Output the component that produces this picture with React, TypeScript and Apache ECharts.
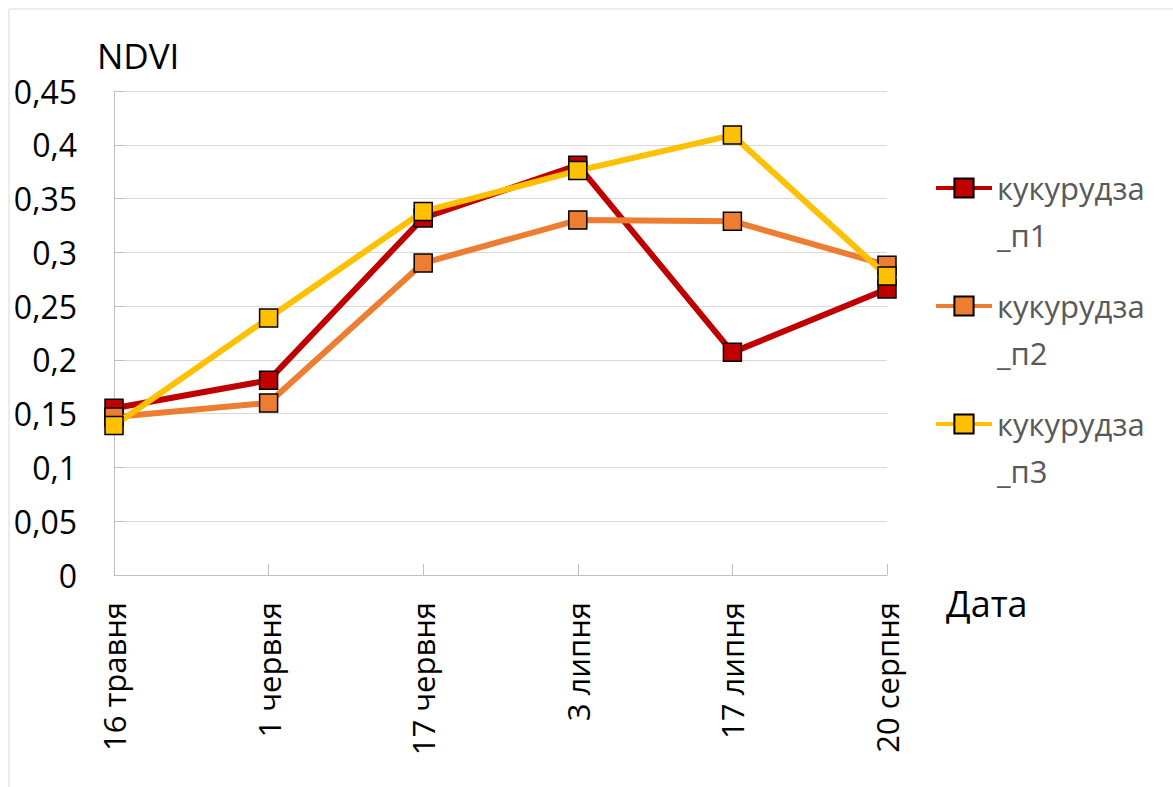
import React, { useEffect, useRef } from "react";
import * as echarts from "echarts";

// Survey dates (x axis categories)
const dates = ["16 травня", "1 червня", "17 червня", "3 липня", "17 липня", "20 серпня"];

// NDVI per maize field
const field1 = [0.155, 0.181, 0.332, 0.381, 0.207, 0.266];
const field2 = [0.147, 0.160, 0.290, 0.330, 0.329, 0.288];
const field3 = [0.139, 0.239, 0.338, 0.376, 0.409, 0.278];

const seriesNames = ["кукурудза_п1", "кукурудза_п2", "кукурудза_п3"];
const seriesColors = ["#C00000", "#ED7D31", "#FFC000"];

// y axis scale
const yMin = 0;
const yMax = 0.45;
const yStep = 0.05;

const FONT = "'Open Sans', 'Noto Sans', sans-serif";

export default function App() {
  const ref = useRef<HTMLDivElement>(null);

  useEffect(() => {
    if (!ref.current) return;
    const chart = echarts.init(ref.current, null, { renderer: "svg" });
    const values = [field1, field2, field3];

    chart.setOption({
      animation: false,
      backgroundColor: "#ffffff",
      textStyle: { fontFamily: FONT },
      grid: { left: 114, top: 91, right: 286, bottom: 212, containLabel: false },
      graphic: [
        {
          type: "rect",
          shape: { x: 9, y: 9, width: 1400, height: 1000 },
          style: { fill: "none", stroke: "#d9d9d9", lineWidth: 1 },
          silent: true,
        },
        {
          type: "text",
          x: 97,
          y: 55,
          style: { text: "NDVI", fontFamily: FONT, fontSize: 35, fill: "#000000", verticalAlign: "middle" },
        },
        {
          type: "text",
          x: 946,
          y: 603,
          style: { text: "Дата", fontFamily: FONT, fontSize: 36, fill: "#000000", verticalAlign: "middle" },
        },
      ],
      legend: {
        orient: "vertical",
        left: 934,
        top: 125.5,
        padding: 0,
        itemWidth: 56,
        itemHeight: 24,
        itemGap: -7,
        selectedMode: false,
        lineStyle: { width: 4 },
        // first line sits level with the icon, the suffix wraps below it
        formatter: (name: string) => {
          const cut = name.indexOf("_");
          return `{a|${name.slice(0, cut)}}\n{b|${name.slice(cut)}}`;
        },
        textStyle: {
          fontFamily: FONT,
          fontSize: 31,
          color: "#595959",
          rich: {
            a: { fontFamily: FONT, fontSize: 31, color: "#595959", lineHeight: 94, padding: [47, 0, 0, 0] },
            b: { fontFamily: FONT, fontSize: 31, color: "#595959", lineHeight: 47 },
          },
        },
        data: seriesNames,
      },
      xAxis: {
        type: "category",
        data: dates,
        boundaryGap: false,
        axisLine: { show: true, lineStyle: { color: "#bfbfbf", width: 1 } },
        axisTick: { show: true, inside: true, length: 11, lineStyle: { color: "#bfbfbf" } },
        axisLabel: { rotate: 90, margin: 27, fontSize: 31, color: "#000000", fontFamily: FONT },
        splitLine: { show: false },
      },
      yAxis: {
        type: "value",
        min: yMin,
        max: yMax,
        interval: yStep,
        axisLine: { show: true, lineStyle: { color: "#bfbfbf", width: 1 } },
        axisTick: { show: true, inside: true, length: 11, lineStyle: { color: "#bfbfbf" } },
        axisLabel: {
          margin: 37,
          fontSize: 32,
          color: "#000000",
          fontFamily: FONT,
          formatter: (v: number) => String(parseFloat(v.toFixed(2))).replace(".", ","),
        },
        splitLine: { show: true, lineStyle: { color: "#d9d9d9", width: 1 } },
      },
      series: seriesNames.map((name, i) => ({
        name,
        type: "line",
        data: values[i],
        symbol: "rect",
        symbolSize: 18,
        lineStyle: { color: seriesColors[i], width: 6 },
        itemStyle: { color: seriesColors[i], borderColor: "#000000", borderWidth: 1.5 },
        emphasis: { disabled: true },
        z: 2 + i,
      })),
    });

    return () => chart.dispose();
  }, []);

  return (
    <div
      ref={ref}
      style={{ position: "absolute", left: 0, top: 0, width: 1173, height: 787 }}
    />
  );
}
